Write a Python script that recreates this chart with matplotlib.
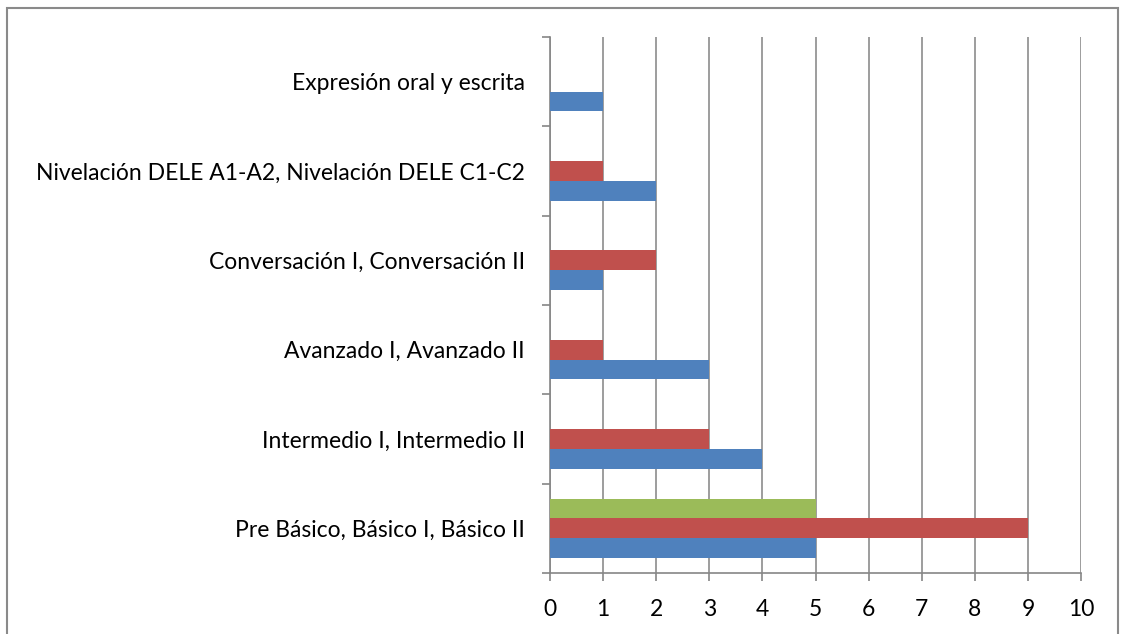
import matplotlib.pyplot as plt
import numpy as np
from matplotlib.patches import Rectangle

categorias = [
    'Pre Básico, Básico I, Básico II',
    'Intermedio I, Intermedio II',
    'Avanzado I, Avanzado II',
    'Conversación I, Conversación II',
    'Nivelación DELE A1-A2, Nivelación DELE C1-C2',
    'Expresión oral y escrita',
]
serie_azul = [5, 4, 3, 1, 2, 1]
serie_roja = [9, 3, 1, 2, 1, 0]
serie_verde = [5, 0, 0, 0, 0, 0]
ticks_x = list(range(0, 11))

plt.rcParams['font.family'] = ['Lato', 'DejaVu Sans']

fig = plt.figure(figsize=(11.21, 6.34), dpi=100)
W, H = 1121, 634
ax = fig.add_axes([550 / W, 1 - 573 / H, (1081 - 550) / W, (573 - 37) / H])

y = np.arange(len(categorias))
alto = 2 / 9
ax.barh(y - alto, serie_azul, height=alto, color='#4F81BD', zorder=3)
ax.barh(y, serie_roja, height=alto, color='#C0504D', zorder=3)
ax.barh(y + alto, serie_verde, height=alto, color='#9BBB59', zorder=3)

ax.set_xlim(0, 10)
ax.set_ylim(-0.5, len(categorias) - 0.5)
ax.set_xticks(ticks_x)
ax.set_xticklabels([str(t) for t in ticks_x], fontsize=16.5)

# etiquetas de categoria en el centro, ticks en los bordes
ax.set_yticks(y)
ax.set_yticklabels(categorias, fontsize=16.5)
ax.tick_params(axis='y', which='major', length=0, pad=18)
ax.set_yticks(np.arange(-0.5, len(categorias)), minor=True)
ax.tick_params(axis='y', which='minor', length=6, color='#868686', width=1.2)
ax.tick_params(axis='x', length=6, color='#868686', width=1.2, pad=13)

ax.grid(axis='x', color='#8C8C8C', linewidth=1.2, zorder=0)
for s in ['top', 'right']:
    ax.spines[s].set_visible(False)
for s in ['left', 'bottom']:
    ax.spines[s].set_color('#868686')
    ax.spines[s].set_linewidth(1.2)

# marco del grafico
fig.patches.append(Rectangle((7 / W, -0.1), (1118 - 7) / W, 1.1 - 8 / H,
                             transform=fig.transFigure, fill=False,
                             edgecolor='#8A8A8A', linewidth=1.5))

fig.savefig('out.png', dpi=100)
